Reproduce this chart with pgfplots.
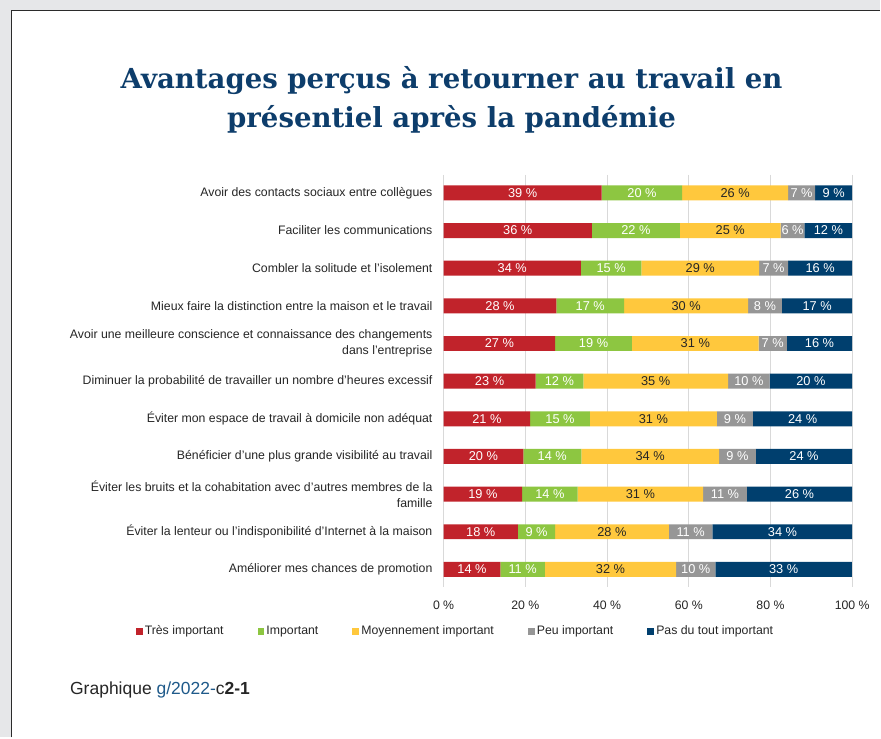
\documentclass[border=0pt]{standalone}
\usepackage{pgfplots}
\usepackage{pgfplotstable}
\pgfplotsset{compat=1.18}
\usepackage{fontspec}
\setmainfont{Liberation Sans}
\newfontfamily\titlefont{DejaVu Serif}
\definecolor{bggray}{HTML}{E6E7E9}
\definecolor{framec}{HTML}{2B2B2B}
\definecolor{titleblue}{HTML}{0D3D6B}
\definecolor{linkblue}{HTML}{1F5A8A}
\definecolor{tres}{HTML}{C1232B}
\definecolor{imp}{HTML}{8DC641}
\definecolor{moy}{HTML}{FFC83D}
\definecolor{peu}{HTML}{969696}
\definecolor{pas}{HTML}{003F6E}
\definecolor{gridc}{HTML}{D9D9D9}
\definecolor{txt}{HTML}{262626}

\newcommand{\lblfont}{\fontsize{12.3}{16}\selectfont}

% shares per row: tres important, important, moyennement, peu, pas du tout
\pgfplotstableread{
row a    b    c    d    e
0   38.7 19.7 25.9 6.6  9.1
1   36.3 21.5 24.7 5.8  11.7
2   33.6 14.8 28.8 7.1  15.7
3   27.6 16.6 30.3 8.3  17.2
4   27.3 18.8 31.0 6.9  16.0
5   22.5 11.7 35.4 10.2 20.2
6   21.2 14.6 31.1 8.8  24.3
7   19.5 14.2 33.7 9.0  23.6
8   19.2 13.6 30.7 10.7 25.8
9   18.2 9.1  27.8 10.7 34.3
10  13.9 10.9 32.1 9.6  33.4
}\shares

\pgfplotsset{
  frame/.style={
    at={(444pt,150pt)}, anchor=south west,
    scale only axis, width=409pt, height=413pt,
    y dir=reverse,
    xmin=0, xmax=100, ymin=-0.48, ymax=10.48,
    /pgf/number format/assume math mode=true,
  },
}

\begin{document}
\begin{tikzpicture}[x=1pt,y=1pt]
% page background and frame
\fill[bggray] (0,0) rectangle (881,738);
\fill[white] (11,0) rectangle (881,727);
\draw[framec,line width=1.6pt] (11.5,0) -- (11.5,727.5) -- (881,727.5);

\node[font=\titlefont\bfseries\fontsize{27.6}{39}\selectfont,text=titleblue,align=center]
  at (452,638) {Avantages perçus à retourner au travail en\\présentiel après la pandémie};

\begin{axis}[
  frame,
  xbar stacked, bar width=15pt,
  xtick={0,20,...,100},
  xticklabel={\pgfmathprintnumber{\tick}~\%},
  ytick={0,...,10},
  yticklabels={
    Avoir des contacts sociaux entre collègues,
    Faciliter les communications,
    Combler la solitude et l’isolement,
    Mieux faire la distinction entre la maison et le travail,
    {Avoir une meilleure conscience et connaissance des changements\\dans l’entreprise},
    Diminuer la probabilité de travailler un nombre d’heures excessif,
    Éviter mon espace de travail à domicile non adéquat,
    Bénéficier d’une plus grande visibilité au travail,
    {Éviter les bruits et la cohabitation avec d’autres membres de la\\famille},
    Éviter la lenteur ou l’indisponibilité d’Internet à la maison,
    Améliorer mes chances de promotion},
  yticklabel style={align=right,font=\lblfont,text=txt,inner sep=0pt,xshift=-11pt},
  xticklabel style={font=\lblfont,text=txt,inner sep=0pt,yshift=-13pt},
  major tick length=0pt,
  axis line style={draw=none},
  xmajorgrids, grid style={gridc,line width=0.8pt},
  legend columns=5,
  legend style={draw=none,fill=none,font=\lblfont,text=txt,
    at={(0.029,-0.106)},anchor=center,
    nodes={text height=9pt,text depth=3pt},
    /tikz/every even column/.append style={column sep=32pt}},
  legend image code/.code={\fill[#1] (0pt,-3.5pt) rectangle (7pt,3.5pt);},
]
\addplot[fill=tres,draw=none] table[x=a,y=row] {\shares};
\addplot[fill=imp,draw=none] table[x=b,y=row] {\shares};
\addplot[fill=moy,draw=none] table[x=c,y=row] {\shares};
\addplot[fill=peu,draw=none] table[x=d,y=row] {\shares};
\addplot[fill=pas,draw=none] table[x=e,y=row] {\shares};
\legend{Très important,Important,Moyennement important,Peu important,Pas du tout important}
\end{axis}

% value labels, centred in each segment
\begin{axis}[
  frame, hide axis,
  point meta=explicit,
  nodes near coords={\pgfmathprintnumber[fixed,precision=0]{\pgfplotspointmeta}~\%},
  every node near coord/.append style={anchor=center,font=\fontsize{12.8}{16}\selectfont,inner sep=0pt},
  every axis plot/.append style={only marks,mark=*,mark size=0pt,mark options={draw=none,fill=none}},
]
\addplot[nodes near coords style={text=white}] table[x expr=\thisrow{a}/2,y=row,meta=a] {\shares};
\addplot[nodes near coords style={text=white}] table[x expr=\thisrow{a}+\thisrow{b}/2,y=row,meta=b] {\shares};
\addplot[nodes near coords style={text=txt}] table[x expr=\thisrow{a}+\thisrow{b}+\thisrow{c}/2,y=row,meta=c] {\shares};
\addplot[nodes near coords style={text=white}] table[x expr=\thisrow{a}+\thisrow{b}+\thisrow{c}+\thisrow{d}/2,y=row,meta=d] {\shares};
\addplot[nodes near coords style={text=white}] table[x expr=\thisrow{a}+\thisrow{b}+\thisrow{c}+\thisrow{d}+\thisrow{e}/2,y=row,meta=e] {\shares};
\end{axis}

\node[anchor=west,inner sep=0pt,font=\fontsize{17.5}{20}\selectfont,text=txt] at (70,47)
  {Graphique \textcolor{linkblue}{g/2022-}c\textbf{2-1}};
\end{tikzpicture}
\end{document}
